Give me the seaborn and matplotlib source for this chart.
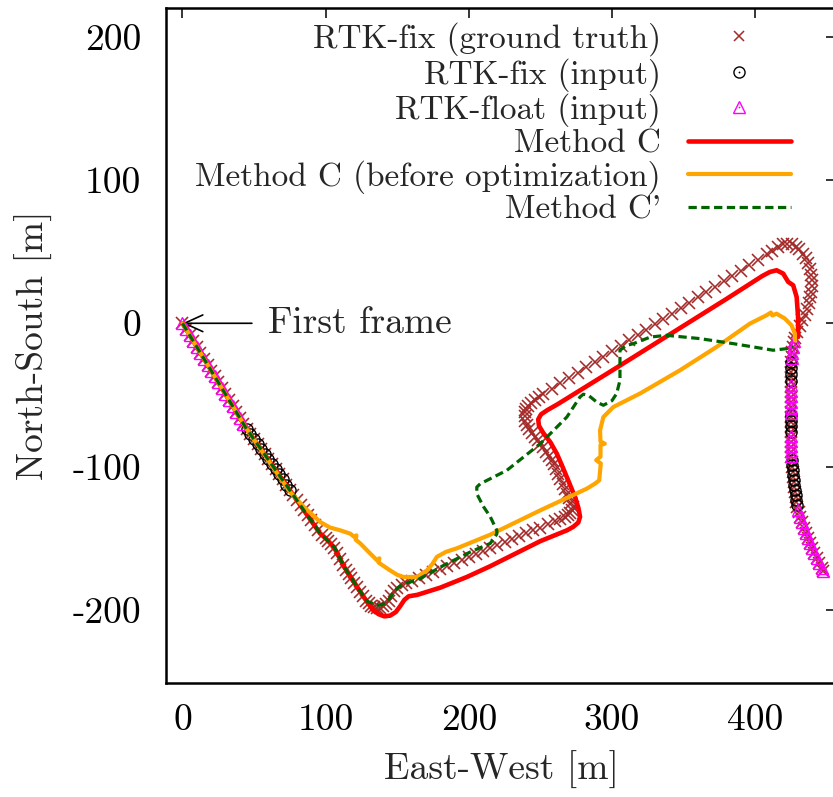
import numpy as np
import matplotlib
matplotlib.use("Agg")
import matplotlib.pyplot as plt
import seaborn as sns
from matplotlib.lines import Line2D

# ---------------- data (metres) ----------------
gt_x = [0, 2.5, 5, 7.5, 10, 12.5, 15, 17.5, 20, 22.5, 25, 27.5, 30, 32.5, 35, 37.5, 40, 42.5,
        45, 47.5, 50, 52.5, 55, 57.5, 60, 62.5, 65, 67.5, 70, 72.5, 75,
        77.5, 80, 82.5, 85, 87.5, 90, 92.5, 95, 97.5, 100, 102, 104, 106, 108, 110, 112, 114,
        116, 118, 120, 122, 124, 126, 128, 130, 132, 134, 136, 138, 140, 142, 144, 146, 148,
        150, 153, 156, 160,
        165, 170, 175, 180, 185, 190, 195, 200, 205, 210, 215, 220, 225, 230, 235, 240, 245,
        250, 255, 260, 264, 267, 269.5, 271, 272, 272.5,
        271.5, 270, 268.5, 267, 265.5, 264, 262.5, 261, 259.5, 258, 256, 254, 252, 250, 248,
        246, 244, 242, 240.5, 239.5, 239, 239.3, 240, 241.5, 243.5, 246, 249, 252,
        258, 264, 270, 276, 282, 288, 294, 300, 306, 312, 318, 324, 330, 336, 342, 348, 354,
        360, 366, 372, 378, 384, 390, 396, 402, 408, 412, 416, 419.5, 422.5, 425.5, 428.5,
        431, 433.5, 435.5, 437, 438.5, 439.3, 439.6, 439.4, 439, 438.3, 437.3, 436, 434.5,
        433, 431.3, 429.5, 428,
        427, 426.3, 425.8, 425.5, 425.2, 425, 424.9, 424.8, 424.8, 424.8, 424.8, 424.8, 424.8,
        424.8, 424.8, 424.8, 424.8, 424.8, 424.9, 425, 425, 425.1, 425.2, 425.4, 425.6, 425.9,
        426.2, 426.5, 426.9, 427.3, 427.8, 428.3, 428.8, 429.5, 430.5, 431.6, 432.8, 434,
        435.3, 436.7, 438.2, 439.8, 441.4, 443, 444.7, 446.4, 447.5]
gt_y = [0, -4.1, -8.2, -12.4, -16.5, -20.6, -24.7, -28.9, -33, -37.1, -41.2, -45.4, -49.5,
        -53.6, -57.7, -61.9, -66, -70.1,
        -73.5, -77, -80.5, -84, -87.5, -91, -94.5, -98, -101.5, -105, -108.5, -112.5, -116.5,
        -120, -123.5, -127, -130.5, -134, -137.5, -141, -144.5, -147.5, -150, -152, -154,
        -156.5, -160, -164.5, -168.5, -172, -175, -178, -181, -184, -187.5, -190.5, -193.5,
        -195.5, -197, -198, -198.5, -198.5, -197.5, -196, -193.5, -190, -187, -184.5, -182.5,
        -181, -179.5,
        -177.6, -175.5, -173.5, -171.4, -169.3, -167.3, -165.2, -163.1, -161.1, -159, -156.9,
        -154.9, -152.8, -150.7, -148.7, -146.6, -144.5, -142.5, -140.4, -138.3, -136.7,
        -135.4, -134, -132.5, -130.5, -128.5,
        -125.5, -122, -119, -115.5, -112, -108.5, -105, -101.5, -98.5, -95.5, -92.5, -89.5,
        -86.5, -84, -81.5, -79, -76.5, -74, -71, -68, -65, -62, -59.5, -57.5, -55.5, -53.5,
        -51.5, -49.5,
        -45.7, -42, -38.3, -34.5, -30.8, -27, -23.3, -19.5, -15.8, -12, -8.3, -4.5, -0.8, 3,
        6.8, 10.5, 14.3, 18, 21.8, 25.5, 29.3, 33, 36.8, 40.5, 44.3, 48, 50.5, 53, 55, 55.5,
        55, 53.5, 51.5, 48.5, 45.5, 42, 38, 34, 30, 26, 22, 18, 14, 10, 6, 2, -2, -6, -10,
        -13, -16.5, -20, -23.5, -27, -30.5, -34, -37.5, -41, -44.5, -48, -51.5, -55, -58.5,
        -62, -65.5, -69, -72.5, -76, -79.5, -83, -86.5, -90, -93.5, -97, -100.5, -104, -107.5,
        -111, -114.5, -118, -121.5, -125, -128.5, -132, -135.5, -139, -142.5, -146, -149.5,
        -153, -156.5, -160, -163.5, -167, -170.5, -172.5]

fix_x = [45, 47.5, 50, 52.5, 55, 57.5, 60, 62.5, 65, 67.5, 70, 72.5, 75,
         424.9, 424.8, 424.8, 424.8,
         424.8, 424.8, 424.8, 424.8,
         425.6, 425.9, 426.2, 426.5, 426.9, 427.3, 427.8, 428.3, 428.8, 429.3]
fix_y = [-73.5, -77, -80.5, -84, -87.5, -91, -94.5, -98, -101.5, -105, -108.5, -112.5, -116.5,
         -27, -31, -35.5, -40,
         -64, -68, -72, -76,
         -95.5, -99, -102.5, -106, -109.5, -113, -116.5, -120, -123.5, -126.5]

float_x = [0, 2.5, 5, 7.5, 10, 12.5, 15, 17.5, 20, 22.5, 25, 27.5, 30, 32.5, 35, 37.5, 40, 42.5,
           427, 426.3, 425.8, 425.5,
           424.8, 424.8, 424.8, 424.8, 424.8, 424.8,
           424.9, 425, 425, 425.1, 425.2,
           429.8, 431.6, 432.8, 434, 435.3, 436.7, 438.2, 439.8, 441.4, 443, 444.7, 446.4, 447.5]
float_y = [0, -4.1, -8.2, -12.4, -16.5, -20.6, -24.7, -28.9, -33, -37.1, -41.2, -45.4, -49.5,
           -53.6, -57.7, -61.9, -66, -70.1,
           -12.5, -16.5, -20.5, -24.5,
           -43, -47, -51, -55, -59, -62.5,
           -78.5, -82, -85.5, -89, -92.5,
           -130.5, -135.5, -139, -142.5, -146, -149.5, -153, -156.5, -160, -163.5, -167,
           -170.5, -172.5]

c_x = [0, 44, 75, 96, 100, 106, 113, 122, 129, 133, 137, 141, 145, 149, 152, 155, 158, 164,
       172, 180, 198.7, 215, 250, 268.5, 273, 276.5, 277.7, 276.6, 274.5, 270, 265, 261.5,
       257, 252, 249, 248.5, 250.5, 255, 262, 300, 340, 380, 405, 410.3, 415, 419.6, 423.1,
       426.6, 429, 430, 430]
c_y = [0, -72.5, -116.5, -146.5, -150, -156.5, -170, -184, -194.5, -200, -203, -204.5, -204,
       -201.5, -197.5, -193, -190.5, -189.5, -187, -184.5, -177, -169.5, -152, -144.5, -142,
       -139, -135, -129, -122, -111, -99, -91, -83, -76.5, -71.5, -67, -63.5, -60.5, -56.5,
       -33, -8, 17, 33, 35.8, 37, 34.7, 28.9, 26.5, 18.4, 4.4, -9.6]

cb_x = [0, 44, 75, 84.6, 96.3, 103, 110.3, 117.2, 120, 121.5, 121, 124.2, 130, 135.9, 137.5,
        137, 145, 150, 154.4, 163.8, 170.8, 174.5, 177.7, 184, 191.7, 215, 250, 282.4, 288,
        291.1, 292.2, 289, 292, 292, 295, 292, 291.7, 294, 301, 319.6, 347.5, 373.1, 396.4,
        408, 411, 412, 415, 420.8, 425.4, 427.8, 427.8]
cb_y = [0, -72.5, -117.5, -128, -138.7, -142.5, -144.5, -146.8, -149, -148, -151, -153.6,
        -159.5, -165.4, -164, -167, -172.4, -175.5, -177, -177, -172.4, -168, -163, -159.5,
        -157, -147.5, -130.5, -115.4, -112, -109.6, -97.8, -95.5, -93, -85, -84, -82.5, -74.7,
        -65.4, -58.4, -49, -32.8, -16.5, -0.2, 5.6, 7.5, 5.5, 6.7, 3.3, -1.4, -7.2, -11.9]

cp_x = [0, 44, 75, 96, 106, 113, 122, 129, 135.9, 139, 142.8, 146, 149.8, 155, 163.8, 182.3,
        201, 215, 219.6, 219.6, 215, 210.3, 205.6, 205.6, 208, 226.6, 250, 268.5, 277.7, 280,
        283.5, 289.4, 294, 300, 303.3, 305.6, 305.6, 305.6, 310, 315, 326.8, 338.2, 361.5,
        384.7, 412.6, 422, 426.6]
cp_y = [0, -72.5, -116.5, -146.5, -156, -170, -184, -194, -196.6, -196.5, -194.5, -190, -185,
        -181.5, -179.3, -169, -159.6, -153.6, -147, -144.5, -135, -128, -119, -114.3, -112,
        -102.6, -84, -65.4, -51.4, -49.5, -50.2, -55, -57.2, -54, -49, -39.8, -30.5, -18.8,
        -15.5, -14.2, -9.6, -8.4, -10.7, -14.2, -18.8, -17.7, -16.5]

x_ticks = [0, 100, 200, 300, 400]
y_ticks = [-200, -100, 0, 100, 200]
x_ticklabels = ["0", "100", "200", "300", "400"]
y_ticklabels = ["-200", "-100", "0", "100", "200"]

labels = ["RTK-fix (ground truth)", "RTK-fix (input)", "RTK-float (input)",
          "Method C", "Method C (before optimization)", "Method C'"]

# ---------------- style ----------------
sns.set_theme(style="white")
plt.rcParams["font.family"] = ["cmr10", "DejaVu Serif"]
plt.rcParams["mathtext.fontset"] = "cm"
plt.rcParams["axes.unicode_minus"] = False
plt.rcParams["axes.formatter.use_mathtext"] = True
FS = 27
LFS = 24

BROWN = "#a52a2a"
MAGENTA = "#ff00ff"
RED = "#ff0000"
ORANGE = "#ffa500"
GREEN = "#006400"

fig = plt.figure(figsize=(8.33, 7.97), dpi=100)
ax = fig.add_axes([166 / 833, 114 / 797, 670 / 833, 675 / 797])

sns.lineplot(x=gt_x, y=gt_y, sort=False, estimator=None, ax=ax, color=BROWN,
             linestyle="", marker="x", markersize=8.5, markeredgecolor=BROWN,
             markeredgewidth=1.15, zorder=2, legend=False)
sns.lineplot(x=fix_x, y=fix_y, sort=False, estimator=None, ax=ax, color="black",
             linestyle="", marker="o", markersize=8, markerfacecolor="none",
             markeredgecolor="black", markeredgewidth=1.0, zorder=3, legend=False)
sns.lineplot(x=fix_x, y=fix_y, sort=False, estimator=None, ax=ax, color="black",
             linestyle="", marker="o", markersize=1.3, markeredgewidth=0, zorder=3, legend=False)
sns.lineplot(x=float_x, y=float_y, sort=False, estimator=None, ax=ax, color=MAGENTA,
             linestyle="", marker="^", markersize=8, markerfacecolor="none",
             markeredgecolor=MAGENTA, markeredgewidth=1.0, zorder=4, legend=False)
sns.lineplot(x=float_x, y=float_y, sort=False, estimator=None, ax=ax, color=MAGENTA,
             linestyle="", marker="o", markersize=1.3, markeredgewidth=0, zorder=4, legend=False)
sns.lineplot(x=c_x, y=c_y, sort=False, estimator=None, ax=ax, color=RED, linewidth=3.3,
             zorder=5, legend=False)
sns.lineplot(x=cb_x, y=cb_y, sort=False, estimator=None, ax=ax, color=ORANGE, linewidth=3.0,
             zorder=6, legend=False)
sns.lineplot(x=cp_x, y=cp_y, sort=False, estimator=None, ax=ax, color=GREEN, linewidth=2.3,
             dashes=(2.6, 1.4), zorder=7, legend=False)

ax.set_xlim(-11.5, 456.5)
ax.set_ylim(-251, 220)
ax.set_xticks(x_ticks, labels=x_ticklabels)
ax.set_yticks(y_ticks, labels=y_ticklabels)
ax.tick_params(direction="in", top=True, right=True, length=7.2, width=1.1,
               labelsize=FS, colors="black")
ax.tick_params(axis="y", pad=18)
ax.tick_params(axis="x", pad=15)
for s in ax.spines.values():
    s.set_linewidth(1.8)
    s.set_color("black")
ax.set_xlabel("East-West [m]", fontsize=FS, labelpad=10)
ax.set_ylabel("North-South [m]", fontsize=FS, labelpad=14)

# annotation
ax.annotate("", xy=(0, 0), xytext=(48.5, 0),
            arrowprops=dict(arrowstyle="->,head_length=0.55,head_width=0.25", color="black",
                            lw=1.2, shrinkA=0, shrinkB=0, mutation_scale=24))
ax.text(60, 0, "First frame", fontsize=FS, ha="left", va="center")

# legend (gnuplot style: text right-aligned, sample on the right)
h_gt = Line2D([], [], color=BROWN, linestyle="", marker="x", markersize=7.5,
              markeredgewidth=1.1)
h_fix = (Line2D([], [], color="black", linestyle="", marker="o", markersize=8,
                markerfacecolor="none", markeredgewidth=1.0),
         Line2D([], [], color="black", linestyle="", marker="o", markersize=1.3,
                markeredgewidth=0))
h_flt = (Line2D([], [], color=MAGENTA, linestyle="", marker="^", markersize=8,
                markerfacecolor="none", markeredgewidth=1.0),
         Line2D([], [], color=MAGENTA, linestyle="", marker="o", markersize=1.3,
                markeredgewidth=0))
h_c = Line2D([], [], color=RED, linewidth=3.3)
h_cb = Line2D([], [], color=ORANGE, linewidth=3.0)
h_cp = Line2D([], [], color=GREEN, linewidth=2.3, dashes=(2.6, 1.4))
leg = ax.legend([h_gt, h_fix, h_flt, h_c, h_cb, h_cp], labels, loc="upper right",
                bbox_to_anchor=(0.933, 0.979), markerfirst=False, frameon=False,
                fontsize=LFS, handlelength=3.1, handletextpad=0.8, labelspacing=0.05,
                borderpad=0, borderaxespad=0)

fig.savefig("out.png", dpi=100)
